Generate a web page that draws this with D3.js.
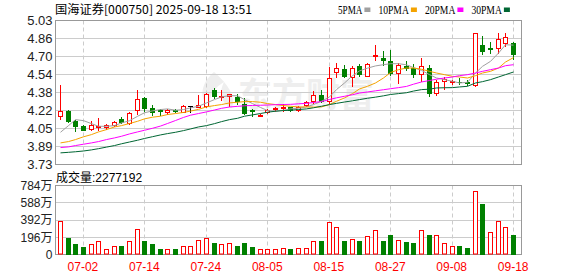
<!DOCTYPE html>
<html><head><meta charset="utf-8">
<script src="https://cdn.jsdelivr.net/npm/d3@7"></script>
<style>body{margin:0;background:#fff}svg{display:block}</style>
</head><body><svg id="c" width="578" height="276"></svg>
<script>
const dates=["06-27","06-30","07-01","07-02","07-03","07-04","07-07","07-08","07-09","07-10","07-11","07-14","07-15","07-16","07-17","07-18","07-21","07-22","07-23","07-24","07-25","07-28","07-29","07-30","07-31","08-01","08-04","08-05","08-06","08-07","08-08","08-11","08-12","08-13","08-14","08-15","08-18","08-19","08-20","08-21","08-22","08-25","08-26","08-27","08-28","08-29","09-01","09-02","09-03","09-04","09-05","09-08","09-09","09-10","09-11","09-12","09-15","09-16","09-17","09-18"];
const opens=[4.165,4.216,4.12,4.081,4.055,4.07,4.07,4.088,4.139,4.106,4.219,4.33,4.24,4.22,4.207,4.22,4.207,4.26,4.25,4.26,4.40,4.34,4.35,4.34,4.276,4.218,4.17,4.207,4.24,4.24,4.247,4.22,4.267,4.30,4.36,4.30,4.562,4.59,4.518,4.615,4.53,4.712,4.69,4.66,4.555,4.62,4.60,4.546,4.60,4.375,4.482,4.48,4.478,4.476,4.45,4.81,4.78,4.78,4.83,4.83];
const highs=[4.445,4.22,4.135,4.088,4.127,4.15,4.10,4.127,4.16,4.20,4.405,4.335,4.264,4.228,4.234,4.234,4.27,4.262,4.358,4.376,4.42,4.40,4.367,4.367,4.33,4.23,4.186,4.234,4.25,4.28,4.25,4.262,4.30,4.39,4.40,4.606,4.645,4.63,4.615,4.636,4.645,4.81,4.758,4.76,4.645,4.66,4.64,4.69,4.63,4.495,4.52,4.494,4.512,4.494,4.92,4.886,4.84,4.915,4.915,4.84];
const lows=[4.142,4.115,4.03,4.04,4.04,4.04,4.05,4.076,4.106,4.094,4.183,4.21,4.18,4.18,4.19,4.20,4.20,4.205,4.245,4.25,4.33,4.31,4.26,4.276,4.186,4.17,4.164,4.195,4.21,4.216,4.216,4.211,4.255,4.285,4.297,4.285,4.518,4.518,4.44,4.53,4.525,4.67,4.63,4.54,4.47,4.585,4.52,4.48,4.35,4.36,4.412,4.46,4.46,4.45,4.44,4.727,4.735,4.735,4.80,4.685];
const closes=[4.216,4.12,4.081,4.045,4.085,4.082,4.085,4.118,4.112,4.196,4.32,4.24,4.204,4.214,4.225,4.217,4.262,4.26,4.268,4.37,4.35,4.345,4.367,4.305,4.198,4.213,4.18,4.225,4.243,4.246,4.226,4.25,4.294,4.357,4.307,4.51,4.60,4.53,4.60,4.546,4.636,4.72,4.67,4.555,4.624,4.60,4.545,4.615,4.38,4.475,4.506,4.488,4.474,4.47,4.92,4.757,4.77,4.86,4.88,4.727];
// volume in 万 and bar direction (u = red hollow, d = green filled)
const volumes=[386,182,114,83,114,148,64,102,102,148,295,148,114,68,68,68,91,91,170,193,129,114,125,102,125,83,68,68,68,76,57,76,76,159,148,364,318,159,178,148,212,273,148,227,170,140,125,284,216,216,136,102,91,76,723,579,261,375,307,227];
const volDir="udddurrrdrrdddrdrrrrdrrdddrrrrdrrrdrrdrdrrddrddrdrrrddrdrrrd".replace(/r/g,"u");
const ma5=[4.021,4.081,4.135,4.126,4.099,4.075,4.075,4.081,4.105,4.125,4.165,4.197,4.214,4.226,4.232,4.22,4.226,4.241,4.256,4.286,4.316,4.34,4.352,4.35,4.316,4.28,4.245,4.217,4.211,4.22,4.232,4.238,4.25,4.271,4.301,4.34,4.406,4.466,4.532,4.575,4.60,4.62,4.631,4.64,4.64,4.63,4.605,4.58,4.541,4.511,4.496,4.481,4.466,4.472,4.556,4.616,4.661,4.736,4.811,4.808];
const ma10=[3.925,3.937,3.955,3.98,4.0,4.024,4.045,4.069,4.081,4.10,4.12,4.142,4.157,4.166,4.181,4.19,4.2,4.212,4.228,4.25,4.262,4.271,4.286,4.292,4.298,4.298,4.292,4.28,4.271,4.262,4.256,4.25,4.25,4.248,4.25,4.271,4.301,4.331,4.37,4.412,4.436,4.466,4.511,4.56,4.586,4.601,4.601,4.59,4.571,4.556,4.541,4.526,4.52,4.511,4.532,4.556,4.571,4.601,4.655,4.695];
const ma20=[3.883,3.889,3.901,3.913,3.925,3.937,3.955,3.970,3.985,4.006,4.024,4.039,4.057,4.077,4.1,4.127,4.155,4.175,4.19,4.205,4.222,4.237,4.249,4.255,4.26,4.263,4.265,4.267,4.27,4.272,4.273,4.278,4.282,4.29,4.298,4.317,4.332,4.346,4.36,4.375,4.385,4.395,4.405,4.414,4.424,4.435,4.455,4.475,4.488,4.50,4.511,4.52,4.532,4.541,4.556,4.571,4.586,4.601,4.622,4.631];
const ma30=[3.835,3.84,3.845,3.852,3.862,3.873,3.887,3.901,3.917,3.933,3.949,3.965,3.981,3.997,4.009,4.021,4.036,4.051,4.069,4.081,4.099,4.117,4.135,4.147,4.166,4.178,4.19,4.202,4.211,4.217,4.22,4.226,4.232,4.242,4.256,4.271,4.282,4.294,4.305,4.316,4.328,4.338,4.35,4.362,4.37,4.378,4.393,4.406,4.41,4.421,4.423,4.424,4.43,4.436,4.466,4.478,4.496,4.52,4.541,4.565];
const priceTickLabels=["3.73","3.89","4.05","4.22","4.38","4.54","4.70","4.86","5.03"];
const volTickLabels=["0","196万","392万","588万","784万"];
const volTickValues=[0,196,392,588,784];
const xTickDates=["07-02","07-14","07-24","08-05","08-15","08-27","09-08","09-18"];
const titleText="国海证券[000750] 2025-09-18 13:51";
const volTitleText="成交量:2277192";
const legendNames=["5PMA","10PMA","20PMA","30PMA"];
const legendColors=["#a0a0a0","#f4a300","#ff00ff","#006633"];

const svg=d3.select("#c");
const L=55.5,R=521.5,PT=20.5,PB=164.5,VT=185.5,VB=254.5;
const UP="#ff0000",DN="#008000",FLAT="#000000";
const FONT="'Liberation Sans','Noto Sans CJK SC',sans-serif";

const x=d3.scaleBand().domain(dates).range([56,517]).padding(0);
const cx=d=>Math.round(x(d)+x.bandwidth()/2);
const yP=d3.scaleLinear().domain([3.73,5.03]).range([PB,PT]);
const yV=d3.scaleLinear().domain([0,784]).range([VB,VT]);
const priceTickValues=d3.range(9).map(i=>3.73+i*1.30/8);

// watermark
const wm=svg.append("g").attr("fill","#eeeeee");
wm.append("path").attr("d","M214,72 C200,84 198,100 212,110 C206,98 214,88 224,82 C218,94 222,104 232,108 C236,96 228,84 214,72 Z");
wm.append("text").attr("x",238).attr("y",107).attr("font-family","'Noto Sans CJK SC',sans-serif")
  .attr("font-weight","bold").attr("font-size",34).text("东方财富");

// grids
function grid(top,bottom,yvals,ys){
  const g=svg.append("g");
  g.selectAll("line.h").data(yvals).join("line")
    .attr("x1",L).attr("x2",R).attr("y1",d=>Math.round(ys(d)-0.5)+0.5).attr("y2",d=>Math.round(ys(d)-0.5)+0.5)
    .attr("stroke","#cccccc");
  g.selectAll("line.v").data(xTickDates).join("line")
    .attr("x1",d=>cx(d)+0.5).attr("x2",d=>cx(d)+0.5).attr("y1",top).attr("y2",bottom)
    .attr("stroke","#cccccc").attr("stroke-dasharray","4,3");
}
grid(PT,PB,priceTickValues,yP);
grid(VT,VB,volTickValues,yV);

[[PT,PB],[VT,VB]].forEach(([t,b])=>svg.append("rect").attr("x",L).attr("y",t).attr("width",R-L).attr("height",b-t)
  .attr("fill","none").attr("stroke","#999999"));

const ay=svg.append("g").attr("transform",`translate(${L},0)`)
  .call(d3.axisLeft(yP).tickValues(priceTickValues).tickSize(0).tickPadding(3).tickFormat((d,i)=>priceTickLabels[i]));
ay.select(".domain").remove();
ay.selectAll("text").attr("font-family",FONT).attr("font-size",13).attr("fill","#222");

const av=svg.append("g").attr("transform",`translate(${L},0)`)
  .call(d3.axisLeft(yV).tickValues(volTickValues).tickSize(0).tickPadding(3).tickFormat((d,i)=>volTickLabels[i]));
av.select(".domain").remove();
av.selectAll("text").attr("font-family",FONT).attr("font-size",12).attr("fill","#222");

const ax=svg.append("g").attr("transform",`translate(0,${VB+0.5})`)
  .call(d3.axisBottom(x).tickValues(xTickDates).tickSize(0).tickPadding(7));
ax.select(".domain").remove();
ax.selectAll("text").attr("font-family",FONT).attr("font-size",12).attr("fill","#ff0000");

const data=dates.map((d,i)=>({d,o:opens[i],h:highs[i],l:lows[i],c:closes[i],v:volumes[i],vd:volDir[i]}));
const cg=svg.append("g");
data.forEach(k=>{
  const X=cx(k.d);
  const col=k.c>k.o?UP:(k.c<k.o?DN:FLAT);
  const yh=Math.round(yP(k.h)), yl=Math.round(yP(k.l));
  const yt=Math.round(yP(Math.max(k.o,k.c))), yb=Math.round(yP(Math.min(k.o,k.c)));
  cg.append("line").attr("x1",X+0.5).attr("x2",X+0.5).attr("y1",yh).attr("y2",yl+1).attr("stroke",col);
  if(k.c>k.o){
    cg.append("rect").attr("x",X-1.5).attr("y",yt+0.5).attr("width",4).attr("height",Math.max(1,yb-yt))
      .attr("fill","#fff").attr("stroke",col);
  } else if(k.c<k.o){
    cg.append("rect").attr("x",X-2).attr("y",yt).attr("width",5).attr("height",Math.max(1,yb-yt+1)).attr("fill",col);
  } else {
    cg.append("line").attr("x1",X-2).attr("x2",X+3).attr("y1",yt+0.5).attr("y2",yt+0.5).attr("stroke",col);
  }
});

const line=d3.line().x((v,i)=>cx(dates[i])+0.5).y(v=>yP(v));
[ma5,ma10,ma20,ma30].forEach((s,j)=>{
  svg.append("path").attr("d",line(s)).attr("fill","none").attr("stroke",legendColors[j]).attr("stroke-width",1);
});

const vg=svg.append("g");
data.forEach(k=>{
  const X=cx(k.d);
  const yt=Math.round(yV(k.v));
  if(k.vd==="u"){
    vg.append("rect").attr("x",X-1.5).attr("y",yt+0.5).attr("width",4).attr("height",VB-0.5-yt-0.5)
      .attr("fill","#fff").attr("stroke",UP);
  } else {
    vg.append("rect").attr("x",X-2).attr("y",yt).attr("width",5).attr("height",VB+0.5-yt).attr("fill",DN);
  }
});

svg.append("text").attr("x",55).attr("y",14).attr("font-family","'Noto Sans CJK SC',sans-serif").attr("font-size",12)
  .attr("fill","#000").attr("textLength",197).attr("lengthAdjust","spacingAndGlyphs").text(titleText);
svg.append("text").attr("x",56).attr("y",181.5).attr("font-family",FONT).attr("font-size",12).attr("fill","#000").text(volTitleText);

let lx=338;
legendNames.forEach((n,j)=>{
  const w=n.length*6.1;
  svg.append("text").attr("x",lx).attr("y",13.5).attr("font-family","'Liberation Serif',serif").attr("font-size",12)
    .attr("textLength",w).attr("lengthAdjust","spacingAndGlyphs").attr("fill","#000").text(n);
  lx+=w;
  svg.append("rect").attr("x",lx+2).attr("y",7.5).attr("width",6).attr("height",4.5).attr("fill",legendColors[j]);
  lx+=2+6+8;
});
</script></body></html>
